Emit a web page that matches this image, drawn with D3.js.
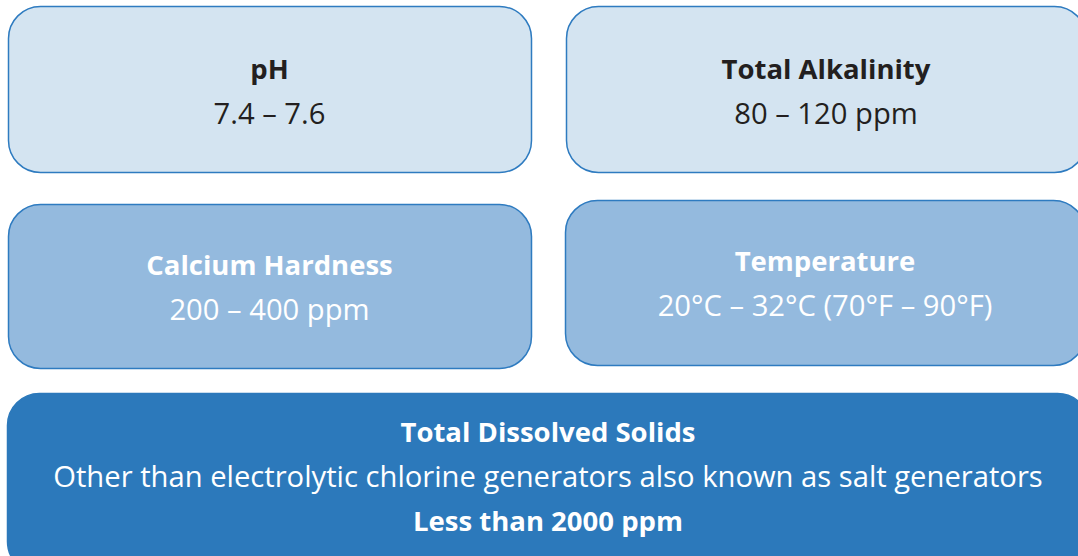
<!DOCTYPE html>
<html>
<head>
<meta charset="utf-8">
<script src="https://cdn.jsdelivr.net/npm/d3@7"></script>
<style>
  body { margin: 0; background: #fff; }
  svg { display: block; }
</style>
</head>
<body>
<div id="chart"></div>
<script>
// pool water balance targets
const titles = ["pH", "Total Alkalinity", "Calcium Hardness", "Temperature", "Total Dissolved Solids"];
const values = [
  ["7.4 – 7.6"],
  ["80 – 120 ppm"],
  ["200 – 400 ppm"],
  ["20°C – 32°C (70°F – 90°F)"],
  ["Other than electrolytic chlorine generators also known as salt generators", "Less than 2000 ppm"]
];
const tiers = [0, 0, 1, 1, 2];

const width = 1078;
const height = 556;

// layout of each box (left/right column, row)
const layout = [
  { x: 8, y: 6, w: 523, h: 166 },
  { x: 566, y: 6, w: 520, h: 166 },
  { x: 8, y: 204, w: 523, h: 164 },
  { x: 565, y: 200, w: 520, h: 165 },
  { x: 7, y: 393, w: 1082, h: 180 }
];

const fill = d3.scaleOrdinal().domain([0, 1, 2]).range(["#d4e4f1", "#94bade", "#2c79bb"]);
const stroke = d3.scaleOrdinal().domain([0, 1, 2]).range(["#2e7bc0", "#2e7bc0", "#2c79bb"]);
const ink = d3.scaleOrdinal().domain([0, 1, 2]).range(["#231f20", "#ffffff", "#ffffff"]);

const data = titles.map((t, i) => ({ title: t, lines: values[i], tier: tiers[i], box: layout[i] }));

const svg = d3.select("#chart")
  .append("svg")
  .attr("width", width)
  .attr("height", height)
  .attr("style", "font-family: 'Open Sans', 'Noto Sans', sans-serif;");

const g = svg.selectAll("g")
  .data(data)
  .join("g")
  .attr("transform", d => `translate(${d.box.x},${d.box.y})`);

g.append("rect")
  .attr("x", 0.5)
  .attr("y", 0.5)
  .attr("width", d => d.box.w)
  .attr("height", d => d.box.h)
  .attr("rx", 32)
  .attr("fill", d => fill(d.tier))
  .attr("stroke", d => stroke(d.tier))
  .attr("stroke-width", 1.5);

const lineGap = 44.5;

g.each(function (d) {
  const n = d.lines.length;
  const rows = [{ text: d.title, bold: true }]
    .concat(d.lines.map((l, j) => ({ text: l, bold: d.tier === 2 && j === n - 1 })));
  const top = d.tier === 2 ? 39 : (d.box.y === 6 ? 63 : 61);
  d3.select(this).selectAll("text")
    .data(rows)
    .join("text")
    .attr("x", d.box.w / 2)
    .attr("y", (r, j) => top + j * lineGap)
    .attr("dy", "0.35em")
    .attr("text-anchor", "middle")
    .attr("fill", ink(d.tier))
    .attr("font-size", r => r.bold ? 27.5 : 29.2)
    .attr("font-weight", r => r.bold ? 700 : 400)
    .text(r => r.text);
});
</script>
</body>
</html>
